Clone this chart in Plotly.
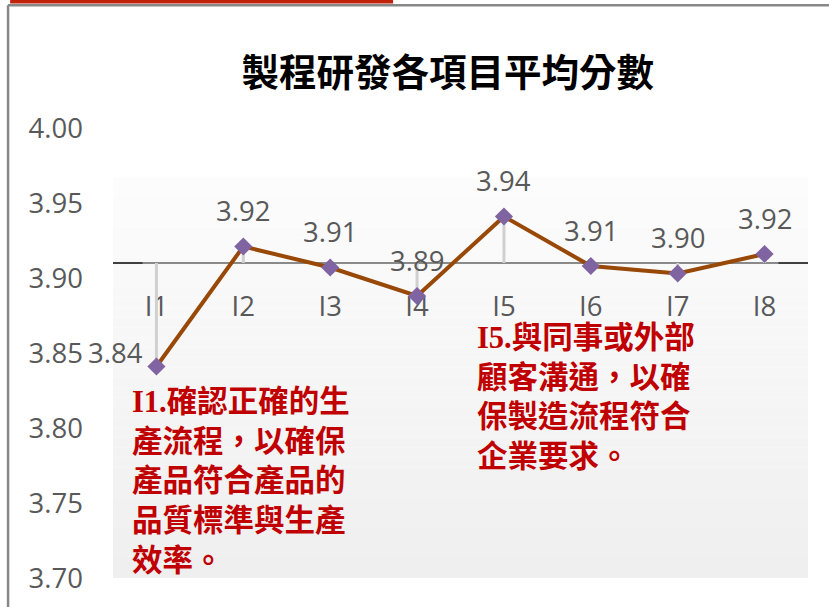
import plotly.graph_objects as go

# data
items = ['I1', 'I2', 'I3', 'I4', 'I5', 'I6', 'I7', 'I8']
scores = [3.841, 3.921, 3.907, 3.888, 3.941, 3.908, 3.903, 3.916]
axis_cross = 3.91
y_ticks = [3.70, 3.75, 3.80, 3.85, 3.90, 3.95, 4.00]

note_i1 = 'I1.確認正確的生<br>產流程，以確保<br>產品符合產品的<br>品質標準與生產<br>效率。'
note_i5 = 'I5.與同事或外部<br>顧客溝通，以確<br>保製造流程符合<br>企業要求。'

GRAY_TXT = '#595959'
RED_TXT = '#C00000'
TICK_FONT = dict(family='Open Sans', size=27.5, color=GRAY_TXT)

# drop lines from each point to the crossing axis
drop_x, drop_y = [], []
for it, v in zip(items, scores):
    drop_x += [it, it, None]
    drop_y += [axis_cross, v, None]

fig = go.Figure()
fig.add_trace(go.Scatter(x=drop_x, y=drop_y, mode='lines',
                         line=dict(color='#d0d0d0', width=3),
                         hoverinfo='skip', showlegend=False))
fig.add_trace(go.Scatter(x=items, y=scores, mode='lines+markers',
                         line=dict(color='#984807', width=4),
                         marker=dict(symbol='diamond', size=14, color='#8064A2'),
                         showlegend=False))

# gradient plot background (stacked strips)
shapes = []
top_val = 3.967
n = 40
for i in range(n):
    y0 = 3.70 + (top_val - 3.70) * i / n
    y1 = 3.70 + (top_val - 3.70) * (i + 1) / n
    t = i / (n - 1)
    c = int(round(0xef + (0xfc - 0xef) * t))
    shapes.append(dict(type='rect', xref='paper', yref='y', x0=0, x1=1,
                       y0=y0, y1=y1, fillcolor=f'rgb({c},{c},{c})',
                       line=dict(width=0), layer='below'))

# horizontal category axis at 3.91
shapes.append(dict(type='line', xref='paper', yref='y', x0=0, x1=1,
                   y0=axis_cross, y1=axis_cross,
                   line=dict(color='#404040', width=2), layer='below'))
shapes.append(dict(type='line', xref='x', yref='y', x0=-0.16, x1=7.16,
                   y0=axis_cross, y1=axis_cross,
                   line=dict(color='#8a8a8a', width=2), layer='below'))

# outer frame + red banner
shapes.append(dict(type='line', xref='paper', yref='paper', x0=-0.151, x1=-0.151,
                   y0=-0.08, y1=1.273, line=dict(color='#888888', width=2.5)))
shapes.append(dict(type='line', xref='paper', yref='paper', x0=-0.151, x1=1.04,
                   y0=1.273, y1=1.273, line=dict(color='#888888', width=2.5)))
shapes.append(dict(type='rect', xref='paper', yref='paper', x0=-0.148, x1=0.403,
                   y0=1.2765, y1=1.30, fillcolor='#C0230A', line=dict(width=0)))

# value labels
annotations = []
for i, (it, v) in enumerate(zip(items, scores)):
    if i == 0:
        annotations.append(dict(x=it, y=v, text=f'{v:.2f}', showarrow=False,
                                xshift=-41, yshift=14, font=TICK_FONT))
    else:
        annotations.append(dict(x=it, y=v, text=f'{v:.2f}', showarrow=False,
                                yshift=36, font=TICK_FONT))

note_font = dict(family='Liberation Serif, Noto Sans CJK TC', size=30.5, color=RED_TXT)
annotations.append(dict(xref='paper', yref='paper', x=0.025, y=0.2144,
                        xanchor='left', yanchor='middle', align='left',
                        text='<b>' + note_i1.replace('<br>', '</b><br><b>') + '</b>',
                        showarrow=False, font=note_font))
annotations.append(dict(xref='paper', yref='paper', x=0.521, y=0.401,
                        xanchor='left', yanchor='middle', align='left',
                        text='<b>' + note_i5.replace('<br>', '</b><br><b>') + '</b>',
                        showarrow=False, font=note_font))

fig.update_layout(
    width=829, height=607,
    margin=dict(l=113, r=21, t=128, b=29),
    paper_bgcolor='white', plot_bgcolor='rgba(0,0,0,0)',
    title=dict(text='<b>製程研發各項目平均分數</b>', x=0.54, y=0.88,
               xanchor='center', yanchor='middle',
               font=dict(family='Noto Sans CJK TC', size=37.5, color='black')),
    shapes=shapes, annotations=annotations,
    showlegend=False,
)
fig.update_xaxes(type='category', range=[-0.5, 7.5], anchor='free', position=0.7,
                 showline=False, showgrid=False, zeroline=False, ticks='',
                 ticklabelstandoff=24, tickfont=TICK_FONT, layer='below traces')
fig.update_yaxes(range=[3.70, 4.00], tickvals=y_ticks, tickformat='.2f',
                 showline=False, showgrid=False, zeroline=False, ticks='',
                 ticklabelstandoff=29, tickfont=TICK_FONT)

# drop the default 8px page margin so the figure sits at the window corner
fig.write_html("out.html", config={'displayModeBar': False},
               post_script="document.body.style.margin='0';")
